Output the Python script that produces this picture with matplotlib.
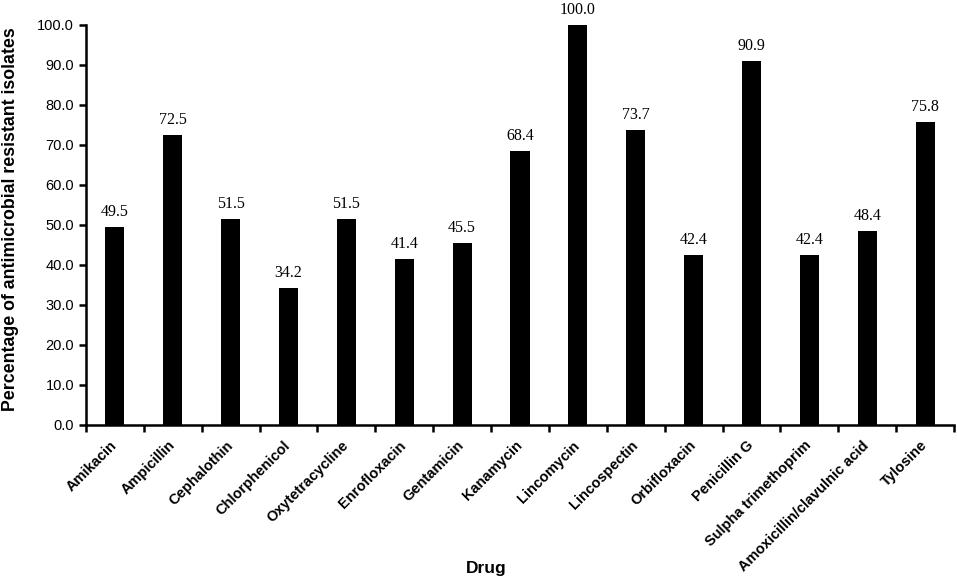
import matplotlib
matplotlib.use("Agg")
import matplotlib.pyplot as plt
import matplotlib.transforms as mtransforms
import numpy as np

drugs = ["Amikacin", "Ampicillin", "Cephalothin", "Chlorphenicol", "Oxytetracycline",
         "Enrofloxacin", "Gentamicin", "Kanamycin", "Lincomycin", "Lincospectin",
         "Orbifloxacin", "Penicillin G", "Sulpha trimethoprim",
         "Amoxicillin/clavulnic acid", "Tylosine"]
values = [49.5, 72.5, 51.5, 34.2, 51.5, 41.4, 45.5, 68.4, 100.0, 73.7,
          42.4, 90.9, 42.4, 48.4, 75.8]
yticks = [0, 10, 20, 30, 40, 50, 60, 70, 80, 90, 100]

fig = plt.figure(figsize=(9.57, 5.81), dpi=100)
ax = fig.add_axes([86/957, 1-425/581, (954-86)/957, 400/581])

x = np.arange(len(drugs))
ax.bar(x, values, width=0.33, color="black", zorder=3)

for xi, v in zip(x, values):
    ax.annotate(f"{v:.1f}", (xi, v), xytext=(0, 5), textcoords="offset points",
                ha="center", va="bottom", fontsize=11.5, family="Liberation Serif")

ax.set_xlim(-0.5, len(drugs) - 0.5)
ax.set_ylim(0, 100)
ax.set_yticks(yticks)
ax.set_yticklabels([f"{t:.1f}" for t in yticks], fontsize=10.5, family="Liberation Sans")

ax.set_xticks(np.arange(len(drugs) + 1) - 0.5)
ax.set_xticklabels([])
ax.set_xticks(x, minor=True)
ax.set_xticklabels(drugs, minor=True, rotation=45, ha="right", rotation_mode="anchor",
                   fontsize=10.5, fontweight="bold", family="Liberation Sans")
ax.tick_params(axis="x", which="minor", length=0, pad=6)
ax.tick_params(axis="both", which="major", direction="out", length=5, width=1.8)

shift = mtransforms.ScaledTranslation(-0.05, -0.05, fig.dpi_scale_trans)
for lbl in ax.get_xticklabels(minor=True):
    lbl.set_transform(lbl.get_transform() + shift)

for s in ["top", "right"]:
    ax.spines[s].set_visible(False)
for s in ["left", "bottom"]:
    ax.spines[s].set_linewidth(1.8)

fig.text(11/957, 1-219/581, "Percentage of antimicrobial resistant isolates",
         rotation=90, ha="center", va="center", fontsize=12.8, fontweight="bold",
         family="Liberation Sans")
fig.text(486/957, 1-568/581, "Drug", ha="center", va="center", fontsize=12.5,
         fontweight="bold", family="Liberation Sans")

fig.savefig("out.png", dpi=100)
